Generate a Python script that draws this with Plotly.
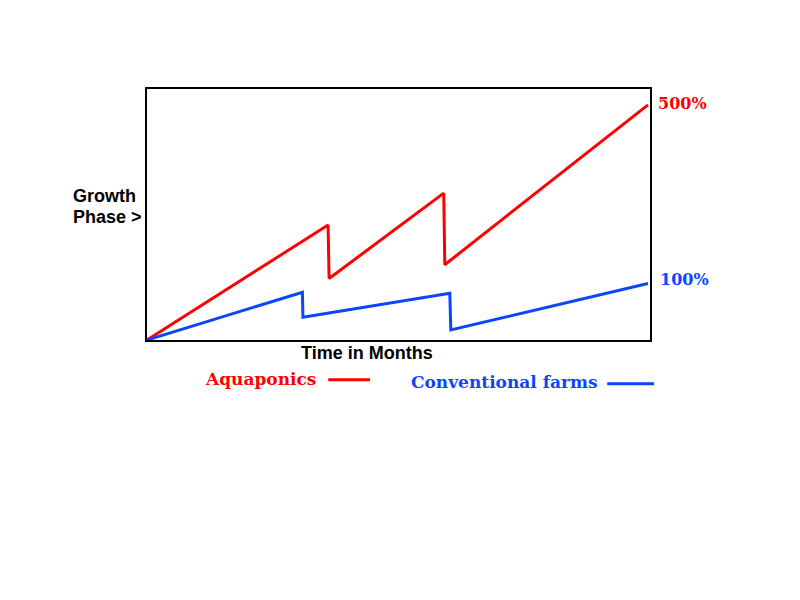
import plotly.graph_objects as go

# Data (x: percent of time span, y: growth index 0-100)
red_x = [0, 36.0, 36.2, 59.0, 59.2, 99.6]
red_y = [0, 45.8, 24.5, 58.5, 30.0, 93.7]
blue_x = [0, 30.9, 31.0, 60.2, 60.4, 99.6]
blue_y = [0, 19.0, 9.1, 18.6, 4.0, 22.5]
series_names = ["Aquaponics", "Conventional farms"]
end_labels = ["500%", "100%"]
RED = "#ff0000"
BLUE = "#0a46ff"
LABEL_FONT = "DejaVu Serif"

fig = go.Figure()
fig.add_trace(go.Scatter(x=red_x, y=red_y, mode="lines", line=dict(color=RED, width=3),
                         name=series_names[0], showlegend=False))
fig.add_trace(go.Scatter(x=blue_x, y=blue_y, mode="lines", line=dict(color=BLUE, width=3),
                         name=series_names[1], showlegend=False))

axis_common = dict(showgrid=False, zeroline=False, showticklabels=False, ticks="",
                   showline=True, linecolor="black", linewidth=2, mirror=True)
fig.update_xaxes(range=[0, 100], **axis_common)
fig.update_yaxes(range=[0, 100], **axis_common)

def ann(text, x, y, color, family, size, bold=False, xanchor="left", align="left"):
    fig.add_annotation(text=f"<b>{text}</b>" if bold else text, x=x, y=y, xref="paper", yref="paper",
                       showarrow=False, xanchor=xanchor, yanchor="middle", align=align,
                       font=dict(color=color, family=family, size=size))

ann(end_labels[0], 1.012, 0.941, RED, LABEL_FONT, 16, bold=True)
ann(end_labels[1], 1.016, 0.241, BLUE, LABEL_FONT, 16, bold=True)
ann("Growth", -0.152, 0.573, "black", "Liberation Sans", 18, bold=True)
ann("Phase >", -0.152, 0.490, "black", "Liberation Sans", 18, bold=True)
ann("Time in Months", 0.4366, -0.050, "black", "Liberation Sans", 18, bold=True, xanchor="center", align="center")
ann(series_names[0], 0.111, -0.154, RED, LABEL_FONT, 17, bold=True)
ann(series_names[1], 0.521, -0.166, BLUE, LABEL_FONT, 17, bold=True)

fig.add_shape(type="line", xref="paper", yref="paper", x0=0.3604, x1=0.4436, y0=-0.158, y1=-0.158,
              line=dict(color=RED, width=3))
fig.add_shape(type="line", xref="paper", yref="paper", x0=0.9149, x1=1.0079, y0=-0.174, y1=-0.174,
              line=dict(color=BLUE, width=3))

fig.update_layout(width=800, height=600, margin=dict(l=139, r=158, t=81, b=268),
                  plot_bgcolor="white", paper_bgcolor="white", showlegend=False)
fig.write_html("out.html")
